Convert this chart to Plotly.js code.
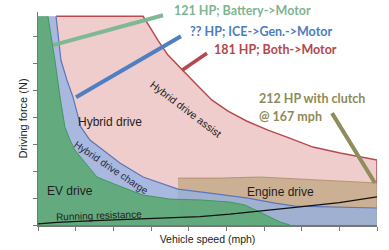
<!DOCTYPE html>
<html>
<head>
<meta charset="utf-8">
<script src="https://cdn.plot.ly/plotly-3.0.1.min.js"></script>
<style>html,body{margin:0;padding:0;background:#fff;}#chart{width:389px;height:250px;}</style>
</head>
<body>
<div id="chart"></div>
<script>
// Vehicle speed (mph) vs driving force (arbitrary units)
const speedEV = [0, 5.3, 6.9, 9.0, 11.7, 14.3, 17.0, 19.6, 23.9, 31.3, 41.9, 55.8, 70.1, 86.0, 101.9, 109.9, 118.9, 128.5, 133.8];
const forceEV = [7.74, 7.74, 7.04, 6.11, 4.74, 3.63, 3.15, 2.78, 2.41, 1.78, 1.48, 1.11, 0.96, 0.93, 0.85, 0.74, 0.44, 0.11, 0];

const speedCharge = [0, 9.6, 10.6, 12.2, 15.4, 18.6, 22.8, 27.6, 34.5, 43.5, 55.8, 64.8, 74.3, 90.3, 111.5, 125.8, 136.5, 180];
const forceCharge = [7.74, 7.74, 7.04, 6.11, 5.37, 4.74, 3.63, 3.15, 2.78, 2.30, 1.78, 1.56, 1.33, 1.19, 1.00, 0.81, 0.70, 0.63];

const speedAssist = [9.6, 55.8, 59.5, 63.7, 69.0, 76.5, 84.4, 92.4, 100.9, 111.0, 122.1, 132.2, 146.0, 160.4, 171.0, 180];
const forceAssist = [7.74, 7.74, 7.33, 6.85, 6.30, 5.74, 5.19, 4.63, 4.22, 3.85, 3.52, 3.26, 2.89, 2.67, 2.52, 2.41];

const speedEngine = [74.3, 96.6, 117.9, 139.1, 160.4, 180];
const forceEngine = [1.74, 1.74, 1.78, 1.70, 1.63, 1.56];

const speedResist = [0, 10.1, 30.0, 50.4, 70.0, 86.0, 101.9, 120.0, 136.5, 160.0, 180];
const forceResist = [0.04, 0.10, 0.16, 0.21, 0.26, 0.31, 0.40, 0.52, 0.65, 0.83, 1.04];

const xMax = 180;

function poly(xs, ys, tailX, tailY) {
  return { x: xs.concat(tailX), y: ys.concat(tailY) };
}

const pA = poly(speedAssist, forceAssist, [xMax, 0, 0], [0, 0, 7.74]);
const pE = poly(speedEngine, forceEngine, [xMax, speedEngine[0]], [0, 0]);
const pC = poly(speedCharge, forceCharge, [xMax, 0], [0, 0]);
const pV = poly(speedEV, forceEV, [0], [0]);

const fillTrace = (p, color, lineColor, lw) => ({
  x: p.x, y: p.y, type: 'scatter', mode: 'lines', fill: 'toself', fillcolor: color,
  line: { width: lw || 0, color: lineColor || color }, hoverinfo: 'skip', showlegend: false
});
const lineTrace = (xs, ys, color, w) => ({
  x: xs, y: ys, type: 'scatter', mode: 'lines',
  line: { color: color, width: w }, hoverinfo: 'skip', showlegend: false
});

const data = [
  fillTrace(pA, '#efcdcc'),
  fillTrace(pE, '#ccb094', 'rgba(165,130,95,0.7)', 1),
  fillTrace(pC, 'rgba(144,176,228,0.75)'),
  fillTrace(pV, 'rgba(92,168,116,0.9)'),
  lineTrace(speedAssist.concat([xMax]), forceAssist.concat([forceEngine[forceEngine.length-1]]), '#b84a50', 1.5),
  lineTrace(speedCharge.slice(1), forceCharge.slice(1), '#5b76b9', 1.2),
  lineTrace(speedEV.slice(1), forceEV.slice(1), '#3f9a5c', 1),
  lineTrace(speedResist, forceResist, '#111111', 1.3)
];

const lead = (x0, y0, x1, y1, c, w) => ({ type: 'line', xref: 'x', yref: 'y', x0, y0, x1, y1, line: { color: c, width: w } });
const txt = (x, y, s, opts) => Object.assign({ x, y, xref: 'x', yref: 'y', text: s, showarrow: false }, opts);
const bold = (c) => ({ family: 'Lato, "Open Sans", sans-serif', size: 12.5, color: c, weight: 'bold' });
const lab = (sz, c) => ({ family: 'Liberation Sans, Arial, sans-serif', size: sz, color: c || '#1e1e1e' });

const layout = {
  width: 389, height: 250,
  margin: { l: 38, r: 12, t: 12, b: 25, pad: 0 },
  paper_bgcolor: '#ffffff', plot_bgcolor: '#ffffff',
  showlegend: false,
  xaxis: {
    range: [0, xMax], dtick: 20, tick0: 0, ticks: 'outside', ticklen: 4, tickwidth: 1, tickcolor: '#777',
    showticklabels: false, showgrid: false, zeroline: false, showline: true, linecolor: '#777', linewidth: 1.5,
    title: { text: 'Vehicle speed (mph)', font: lab(10.5, '#222'), standoff: 6 }
  },
  yaxis: {
    range: [0, 7.9], dtick: 1, tick0: 0, ticks: 'outside', ticklen: 4, tickwidth: 1, tickcolor: '#777',
    showticklabels: false, showgrid: false, zeroline: false, showline: true, linecolor: '#777', linewidth: 1.5,
    title: { text: 'Driving force (N)', font: lab(11, '#222'), standoff: 2 }
  },
  shapes: [
    lead(8.0, 6.67, 66.4, 7.78, 'rgba(120,182,145,0.95)', 4),
    lead(20.2, 4.74, 75.9, 7.0, '#4e7fc2', 4),
    lead(76.5, 5.74, 89.7, 6.37, '#b6484c', 3.5),
    lead(156.1, 4.15, 178.9, 1.56, '#8e8d5c', 4)
  ],
  annotations: [
    txt(71.2, 1.005, '121 HP; Battery->Motor', { yref: 'paper', xanchor: 'left', yanchor: 'middle', font: bold('#7fb48f') }),
    txt(79.6, 7.19, '?? HP; ICE->Gen.->Motor', { xanchor: 'left', yanchor: 'middle', font: bold('#4d7cc0') }),
    txt(92.4, 6.52, '181 HP; Both->Motor', { xanchor: 'left', yanchor: 'middle', font: bold('#b5474b') }),
    txt(116.3, 4.70, '212 HP with clutch', { xanchor: 'left', yanchor: 'middle', font: bold('#8d8b57') }),
    txt(116.3, 4.04, '@ 167 mph', { xanchor: 'left', yanchor: 'middle', font: bold('#8d8b57') }),
    txt(78.6, 4.30, 'Hybrid drive assist', { textangle: 37, font: lab(10.5) }),
    txt(38.8, 2.15, 'Hybrid drive charge', { textangle: 34, font: lab(10, '#2a2a3a') }),
    txt(38.2, 3.81, 'Hybrid drive', { font: lab(12) }),
    txt(17.0, 1.26, 'EV drive', { font: lab(12) }),
    txt(128.5, 1.22, 'Engine drive', { font: lab(12) }),
    txt(32.4, 0.35, 'Running resistance', { textangle: -2, font: lab(10) })
  ]
};

Plotly.newPlot('chart', data, layout, { staticPlot: true, displayModeBar: false });
</script>
</body>
</html>
